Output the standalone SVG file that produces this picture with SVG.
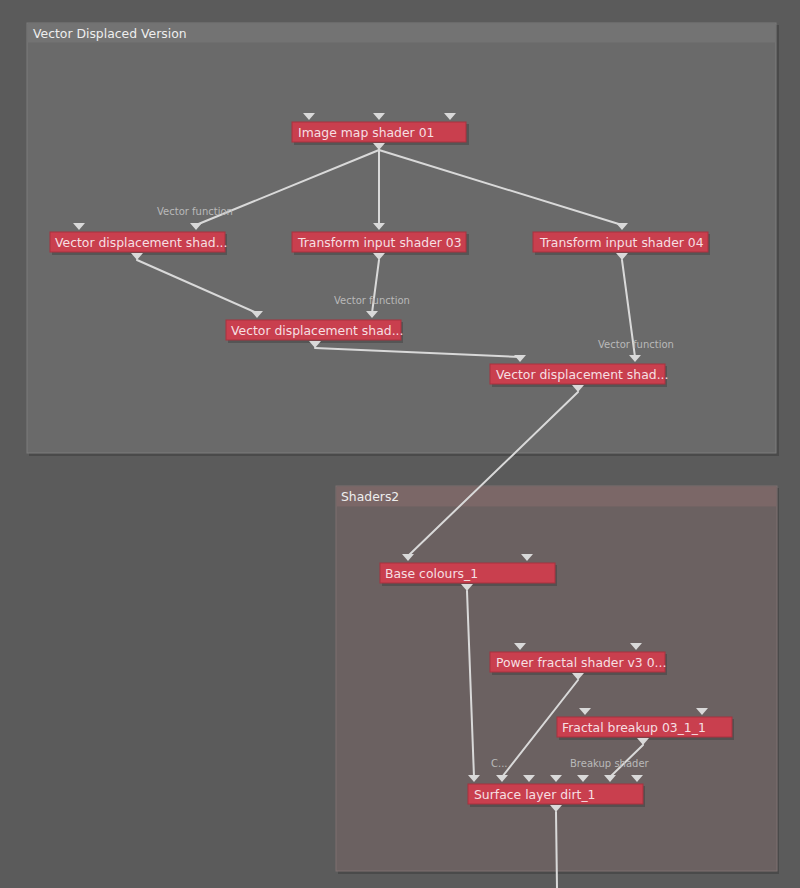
<svg xmlns="http://www.w3.org/2000/svg" width="800" height="888" viewBox="0 0 800 888">
<style>
.bg{fill:#5b5b5b}
.nb{fill:#c93f4e;stroke:#a8323f;stroke-width:1}
.ns{fill:#3f3f3f;opacity:0.5}
.nt{font-family:"DejaVu Sans",sans-serif;font-size:12.4px;fill:#f6dfe2}
.pt{fill:#d9d9d9}
.lbl{font-family:"DejaVu Sans",sans-serif;font-size:10px;fill:#b9b9b9}
.gt{font-family:"DejaVu Sans",sans-serif;font-size:12.4px;fill:#eeeeee}
.cn line{stroke:#d9d9d9;stroke-width:2;stroke-linecap:round}
</style>
<defs>
<polygon id="tri" points="-6,0 6,0 0,7" class="pt"/>
</defs>
<rect class="bg" x="0" y="0" width="800" height="888"/>
<g id="group1">
<rect x="29" y="25" width="750" height="431" fill="#4a4a4a"/>
<rect x="27" y="23" width="749" height="430" fill="#6a6a6a" stroke="#7c7c7c" stroke-width="1"/>
<rect x="27.5" y="23.5" width="748" height="19" fill="#737373"/>
<text class="gt" x="33" y="38">Vector Displaced Version</text>
</g>
<g id="group2">
<rect x="338" y="488" width="441" height="386" fill="#4a4a4a"/>
<rect x="336" y="486" width="441" height="385" fill="#6b6161" stroke="#7e7070" stroke-width="1"/>
<rect x="336.5" y="486.5" width="440" height="20" fill="#7b6767"/>
<text class="gt" x="341" y="501">Shaders2</text>
</g>
<g id="connectors" class="cn">
<line x1="379" y1="150" x2="196" y2="225"/>
<line x1="379" y1="150" x2="379" y2="225"/>
<line x1="379" y1="150" x2="622" y2="225"/>
<line x1="137" y1="260" x2="257" y2="313"/>
<line x1="379" y1="260" x2="372" y2="313"/>
<line x1="315" y1="348" x2="520" y2="357"/>
<line x1="622" y1="260" x2="635" y2="357"/>
<line x1="578" y1="392" x2="408" y2="556"/>
<line x1="467" y1="591" x2="474" y2="777"/>
<line x1="578" y1="680" x2="502" y2="777"/>
<line x1="643" y1="745" x2="610" y2="777"/>
<line x1="556" y1="812" x2="557" y2="888"/>
</g>
<g id="labels">
<text class="lbl" x="157" y="215">Vector function</text>
<text class="lbl" x="334" y="304">Vector function</text>
<text class="lbl" x="598" y="348">Vector function</text>
<text class="lbl" x="491" y="767">C...</text>
<text class="lbl" x="570" y="767">Breakup shader</text>
</g>
<g id="n_imagemap">
<rect class="ns" x="294" y="124" width="175" height="21"/>
<rect class="nb" x="292" y="122" width="174" height="20"/>
<text class="nt" x="298" y="137">Image map shader 01</text>
<use href="#tri" x="309" y="113"/><use href="#tri" x="379" y="113"/><use href="#tri" x="450" y="113"/>
<use href="#tri" x="379" y="143"/>
</g>
<g id="n_vdA">
<rect class="ns" x="52" y="234" width="175" height="21"/>
<rect class="nb" x="50" y="232" width="175" height="20"/>
<text class="nt" x="55" y="247">Vector displacement shad...</text>
<use href="#tri" x="79" y="223"/><use href="#tri" x="196" y="223"/>
<use href="#tri" x="137" y="253"/>
</g>
<g id="n_tr03">
<rect class="ns" x="294" y="234" width="175" height="21"/>
<rect class="nb" x="292" y="232" width="174" height="20"/>
<text class="nt" x="298" y="247">Transform input shader 03</text>
<use href="#tri" x="379" y="223"/>
<use href="#tri" x="379" y="253"/>
</g>
<g id="n_tr04">
<rect class="ns" x="535" y="234" width="175" height="21"/>
<rect class="nb" x="533" y="232" width="175" height="20"/>
<text class="nt" x="540" y="247">Transform input shader 04</text>
<use href="#tri" x="622" y="223"/>
<use href="#tri" x="622" y="253"/>
</g>
<g id="n_vdB">
<rect class="ns" x="228" y="322" width="175" height="21"/>
<rect class="nb" x="226" y="320" width="175" height="20"/>
<text class="nt" x="231" y="335">Vector displacement shad...</text>
<use href="#tri" x="257" y="311"/><use href="#tri" x="372" y="311"/>
<use href="#tri" x="315" y="341"/>
</g>
<g id="n_vdC">
<rect class="ns" x="492" y="366" width="175" height="21"/>
<rect class="nb" x="490" y="364" width="175" height="20"/>
<text class="nt" x="496" y="379">Vector displacement shad...</text>
<use href="#tri" x="520" y="355"/><use href="#tri" x="635" y="355"/>
<use href="#tri" x="578" y="385"/>
</g>
<g id="n_base">
<rect class="ns" x="382" y="565" width="175" height="21"/>
<rect class="nb" x="380" y="563" width="175" height="20"/>
<text class="nt" x="385" y="578">Base colours_1</text>
<use href="#tri" x="408" y="554"/><use href="#tri" x="527" y="554"/>
<use href="#tri" x="467" y="584"/>
</g>
<g id="n_power">
<rect class="ns" x="492" y="654" width="175" height="21"/>
<rect class="nb" x="490" y="652" width="175" height="20"/>
<text class="nt" x="496" y="667">Power fractal shader v3 0...</text>
<use href="#tri" x="520" y="643"/><use href="#tri" x="636" y="643"/>
<use href="#tri" x="578" y="673"/>
</g>
<g id="n_fractal">
<rect class="ns" x="559" y="719" width="175" height="21"/>
<rect class="nb" x="557" y="717" width="175" height="20"/>
<text class="nt" x="562" y="732">Fractal breakup 03_1_1</text>
<use href="#tri" x="585" y="708"/><use href="#tri" x="702" y="708"/>
<use href="#tri" x="643" y="738"/>
</g>
<g id="n_surface">
<rect class="ns" x="470" y="786" width="175" height="21"/>
<rect class="nb" x="468" y="784" width="175" height="20"/>
<text class="nt" x="474" y="799">Surface layer dirt_1</text>
<use href="#tri" x="474" y="775"/><use href="#tri" x="502" y="775"/><use href="#tri" x="529" y="775"/><use href="#tri" x="556" y="775"/><use href="#tri" x="583" y="775"/><use href="#tri" x="610" y="775"/><use href="#tri" x="637" y="775"/>
<use href="#tri" x="556" y="805"/>
</g>
</svg>
